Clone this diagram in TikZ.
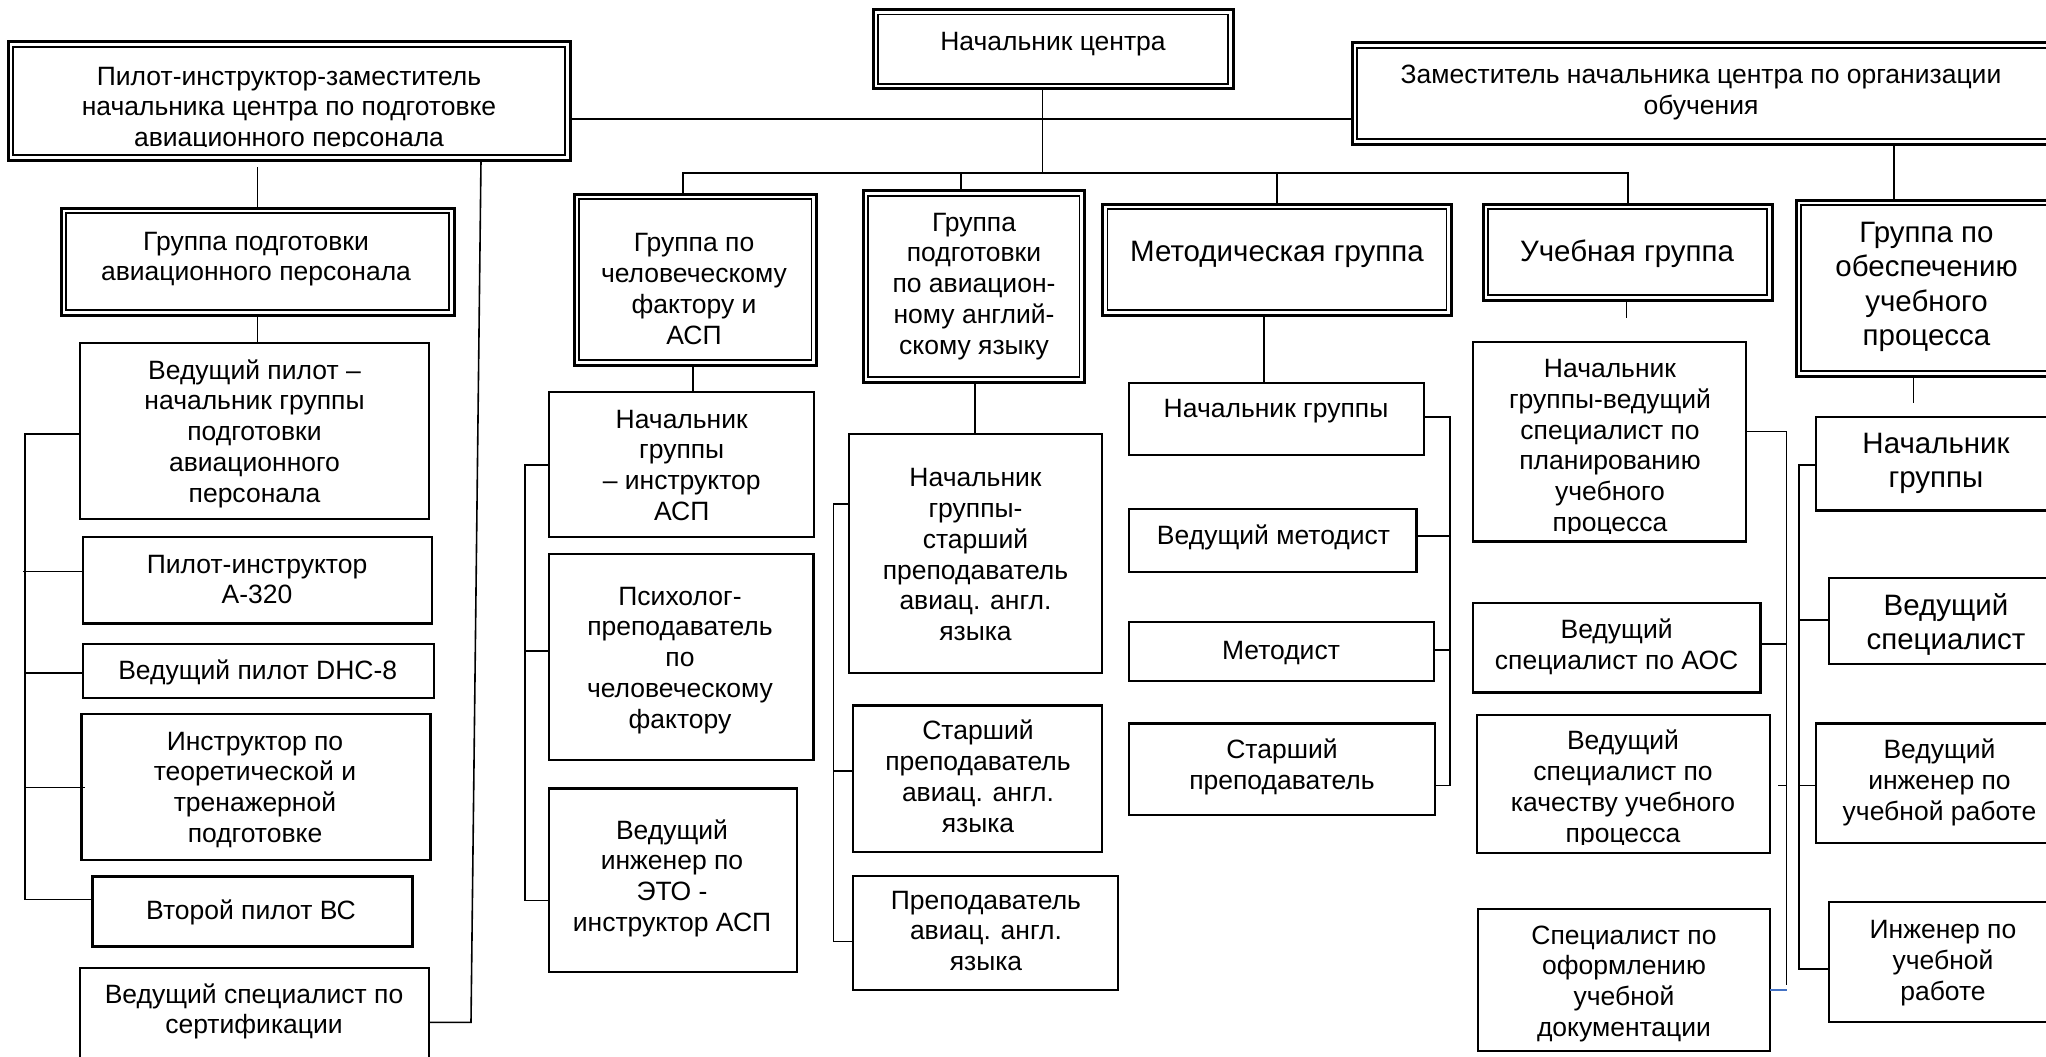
\documentclass[tikz,border=0pt]{standalone}
\usepackage{fontspec}
\setmainfont{Liberation Sans}
\usetikzlibrary{fit,calc}
\newcommand\bx[6][box]{\node[#1,fit={(#3,#4) (#5,#6)}] (#2) {};}
\newcommand\dbx[5]{\node[dbox,fit={(#2,#3) (#4,#5)}] (#1) {};
  \draw[line width=1.6pt] ([xshift=5pt,yshift=-5pt]#1.north west) rectangle ([xshift=-5pt,yshift=5pt]#1.south east);}
\newcommand\tx[5][txt]{\node[#1] (#2) at (#3,#4-18) {\rule{0pt}{26pt}#5};}
\begin{document}
\begin{tikzpicture}[x=1pt,y=-1pt,
  box/.style={draw,line width=2.2pt,inner sep=0pt,outer sep=0pt,rectangle},
  dbox/.style={draw,line width=3pt,inner sep=0pt,outer sep=0pt,rectangle},
  thickbox/.style={box,line width=3pt},
  txt/.style={align=center,inner sep=0pt,outer sep=0pt,anchor=north,font=\fontsize{26.5pt}{30.8pt}\selectfont},
  bigtxt/.style={txt,font=\fontsize{29.5pt}{34.5pt}\selectfont},
  conn/.style={line width=1.6pt},
  blueconn/.style={line width=1.6pt,draw=wordblue},
]
\definecolor{wordblue}{HTML}{4472C4}
\useasboundingbox (0,0) rectangle (2046,1057);
\clip (0,0) rectangle (2046,1057);
\fill[white] (0,0) rectangle (2046,1057);

% ---------- top level ----------
\dbx{dep1}{8}{42}{570}{160}
\dbx{boss}{873}{9.5}{1233}{89}
\dbx{dep2}{1352}{43}{2065}{144}
\begin{scope}
\clip (14,48) rectangle (565,146);
\tx{tdep1}{289}{77}{Пилот-инструктор-заместитель\\начальника центра по подготовке\\авиационного персонала}
\end{scope}
\tx{tboss}{1053}{43}{Начальник центра}
\tx{tdep2}{1701}{75.5}{Заместитель начальника центра по организации\\обучения}

% ---------- groups ----------
\dbx{G1}{61}{208}{454}{315}
\dbx{G2}{574}{194}{816.5}{365}
\dbx{G3}{863}{190.7}{1084.5}{382}
\dbx{G4}{1102.5}{204}{1451.5}{315}
\dbx{G5}{1483}{204}{1772}{300}
\dbx{G6}{1796}{200}{2065}{376}
\tx{tG1}{256}{242}{Группа подготовки\\авиационного персонала}
\tx{tG2}{694}{243.7}{Группа по\\человеческому\\фактору и\\АСП}
\tx{tG3}{974}{223}{Группа\\подготовки\\по авиацион-\\ному англий-\\скому языку}
\tx[bigtxt]{tG4}{1277}{253}{Методическая группа}
\tx[bigtxt]{tG5}{1627}{253}{Учебная группа}
\tx[bigtxt]{tG6}{1926.5}{234}{Группа по\\обеспечению\\учебного\\процесса}

% ---------- column 1 ----------
\bx{B1}{80}{343}{429}{518.6}
\bx{B2}{83}{537}{432}{623.5}
\bx{B3}{83}{643.7}{434}{698}
\bx{B4}{81.5}{713.7}{430.5}{860}
\bx[thickbox]{B5}{92.6}{876}{412}{946}
\bx{B6}{79.6}{967.8}{429}{1070}
\tx{tB1}{254.5}{371}{Ведущий пилот –\\начальник группы\\подготовки\\авиационного\\персонала}
\tx{tB2}{257}{565}{Пилот-инструктор\\А-320}
\tx{tB3}{257.7}{671}{Ведущий пилот DHC-8}
\tx{tB4}{255}{742}{Инструктор по\\теоретической и\\тренажерной\\подготовке}
\tx{tB5}{251}{911.5}{Второй пилот ВС}
\tx{tB6}{254}{995}{Ведущий специалист по\\сертификации}

% ---------- column 2 ----------
\bx{C2a}{549}{392}{814}{537}
\bx{C2b}{549}{554}{813.4}{760}
\bx{C2c}{549}{788.5}{797}{971.6}
\tx{tC2a}{681.7}{420}{Начальник\\группы\\– инструктор\\АСП}
\tx{tC2b}{680}{597}{Психолог-\\преподаватель\\по\\человеческому\\фактору}
\tx{tC2c}{672}{831}{Ведущий\\инженер по\\ЭТО -\\инструктор АСП}

% ---------- column 3 ----------
\bx{C3a}{849}{434}{1102}{672.7}
\bx{C3b}{853}{705.5}{1102}{852}
\bx{C3c}{853}{876}{1118}{989.6}
\tx{tC3a}{975.5}{478.7}{Начальник\\группы-\\старший\\преподаватель\\авиац. англ.\\языка}
\tx{tC3b}{978}{731.7}{Старший\\преподаватель\\авиац. англ.\\языка}
\tx{tC3c}{986}{901}{Преподаватель\\авиац. англ.\\языка}

% ---------- column 4 ----------
\bx{C4a}{1128.7}{383}{1424}{455}
\bx{C4b}{1129}{509}{1416.5}{572}
\bx{C4c}{1128.7}{622}{1434}{681}
\bx{C4d}{1129}{723.5}{1435}{814.6}
\tx{tC4a}{1276}{409}{Начальник группы}
\tx{tC4b}{1273.5}{536}{Ведущий методист}
\tx{tC4c}{1281}{651}{Методист}
\tx{tC4d}{1282}{750.5}{Старший\\преподаватель}

% ---------- column 5 ----------
\bx{C5a}{1473}{342}{1746}{541.5}
\bx{C5b}{1473}{603}{1760.5}{692.5}
\bx{C5c}{1477}{714.8}{1770}{853}
\bx{C5d}{1478}{909}{1770}{1051}
\begin{scope}
\clip (1474,343) rectangle (1745,533);
\tx{tC5a}{1610}{369.5}{Начальник\\группы-ведущий\\специалист по\\планированию\\учебного\\процесса}
\end{scope}
\tx{tC5b}{1616.6}{630.5}{Ведущий\\специалист по АОС}
\begin{scope}
\clip (1478,716) rectangle (1769,844);
\tx{tC5c}{1623}{741.7}{Ведущий\\специалист по\\качеству учебного\\процесса}
\end{scope}
\tx{tC5d}{1624}{936}{Специалист по\\оформлению\\учебной\\документации}

% ---------- column 6 ----------
\bx{C6a}{1815.6}{416.7}{2065}{510.4}
\bx{C6b}{1828.6}{578}{2065}{664}
\bx{C6c}{1815.6}{723.5}{2065}{843}
\bx{C6d}{1828.6}{902}{2065}{1021.6}
\tx[bigtxt]{tC6a}{1936}{445}{Начальник\\группы}
\tx[bigtxt]{tC6b}{1946}{607}{Ведущий\\специалист}
\tx{tC6c}{1939.5}{750.5}{Ведущий\\инженер по\\учебной работе}
\tx{tC6d}{1943}{930.5}{Инженер по\\учебной\\работе}

% ---------- connectors ----------
\coordinate (busL) at (683,173);
\coordinate (busR) at (1628,173);
\draw[conn] (dep1.east |- 0,119) -- (dep2.west |- 0,119);
\draw[conn] ([xshift=-10.5pt]boss.south) -- ([xshift=-10.5pt]boss.south |- busL);
\draw[conn] (G2.north -| busL) -- (busL) -- (busR) -- (busR |- G5.north);
\draw[conn] (G3.north -| 961,0) -- (busL -| 961,0);
\draw[conn] (G4.north) -- (G4.north |- busL);
\draw[conn] (G6.north -| 1894,0) -- (dep2.south -| 1894,0);
\draw[conn] (G1.north) -- (G1.north |- 0,167);
\draw[conn] (G1.south) -- (G1.south |- B1.north);
\draw[conn] (G2.south -| 693,0) -- (C2a.north -| 693,0);
\draw[conn] (G3.south -| 975,0) -- (C3a.north -| 975,0);
\draw[conn] (G4.south -| 1264,0) -- (C4a.north -| 1264,0);
\draw[conn] (G5.south -| 1626.5,0) -- ++(0,18);
\draw[conn] (G6.south -| 1913.4,0) -- ++(0,27);
\coordinate (sl) at (471,1022.4);
\draw[conn] ([xshift=473pt]dep1.south west) -- (sl) -- (B6.east |- sl);

% column 1 bracket
\draw[conn] (B1.west |- 0,434) -- (24.8,434) -- (24.8,899.5) -- (B5.west |- 0,899.5);
\draw[conn] (23,571.6) -- (B2.west |- 0,571.6);
\draw[conn] (24.8,673) -- (B3.west |- 0,673);
\draw[conn] (24.8,787.4) -- (85,787.4);
% column 2 bracket
\draw[conn] (C2a.west |- 0,465) -- (525,465) -- (525,900.5) -- (C2c.west |- 0,900.5);
\draw[conn] (525,650.8) -- (C2b.west |- 0,650.8);
% column 3 bracket
\draw[conn] (C3a.west |- 0,504) -- (833.6,504) -- (833.6,941.5) -- (C3c.west |- 0,941.5);
\draw[conn] (833.6,771) -- (C3b.west |- 0,771);
% column 4 bracket
\draw[conn] (C4a.east |- 0,416.7) -- (1450,416.7) -- (1450,785.6) -- (C4d.east |- 0,785.6);
\draw[conn] (C4b.east |- 0,536) -- (1450,536);
\draw[conn] (C4c.east |- 0,650) -- (1450,650);
% column 5 bracket
\draw[conn] (C5a.east |- 0,431.6) -- (1786.5,431.6) -- (1786.5,984.5);
\draw[conn] (C5b.east |- 0,644) -- (1786.5,644);
\draw[conn] (1778,785.6) -- (1786.5,785.6);
\draw[blueconn] (C5d.east |- 0,990) -- (1786.5,990);
% column 6 bracket
\draw[conn] (C6a.west |- 0,465) -- (1799,465) -- (1799,969) -- (C6d.west |- 0,969);
\draw[conn] (1799,620) -- (C6b.west |- 0,620);
\draw[conn] (1799,785.6) -- (C6c.west |- 0,785.6);
\end{tikzpicture}
\end{document}
